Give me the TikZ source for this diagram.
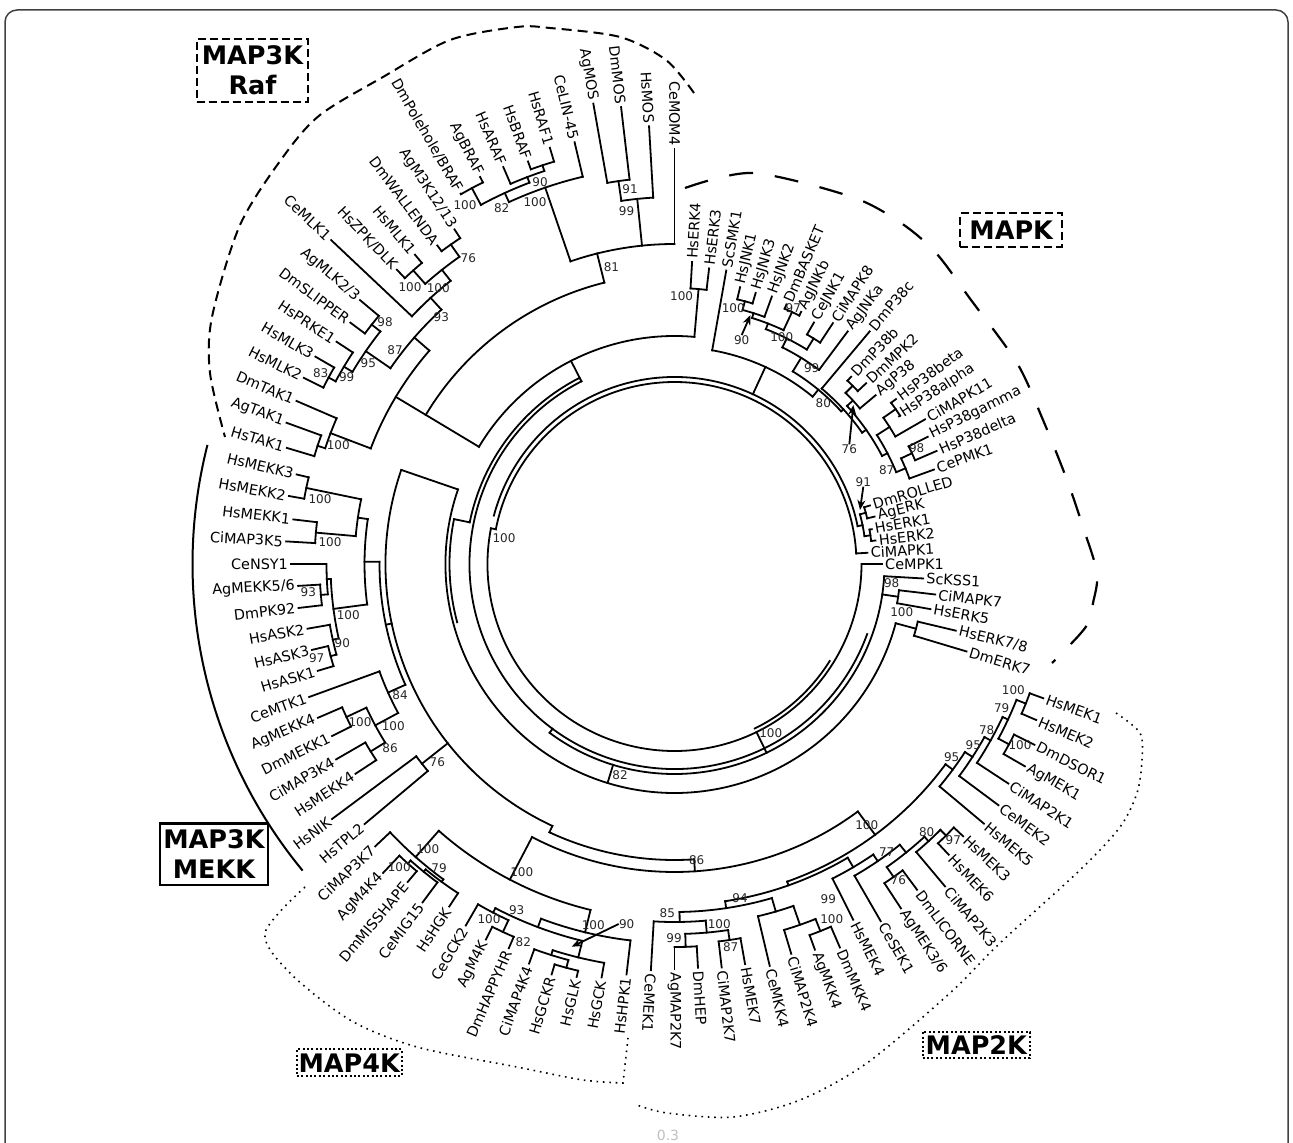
\documentclass[tikz,border=0pt]{standalone}
\usepackage{fontspec}
\setmainfont{DejaVu Sans}
\usetikzlibrary{arrows.meta}
\newcommand\Tarc[3]{\draw[tree] (#2:#1) arc[start angle=#2, end angle=#3, radius=#1*0.5pt];}
\newcommand\Trad[3]{\draw[tree] (#1:#2) -- (#1:#3);}
\newcommand\Lf[5]{\node[lab, rotate=#2] (#1) at (#2:#3) {#5}; \draw[tree] (#2:#4) -- (#1.west);}
\newcommand\Lfr[5]{\node[lab, rotate=#2+180] (#1) at (#2:#3) {#5}; \draw[tree] (#2:#4) -- (#1.east);}
\newcommand\Bs[4]{\node[bs] (#1) at (#2,#3) {#4};}
\begin{document}
\begin{tikzpicture}[x=0.5pt,y=0.5pt,
  tree/.style={line width=0.9pt,line cap=rect},
  lab/.style={font=\fontsize{7.2}{8.6}\selectfont,inner sep=1.5pt},
  bs/.style={font=\fontsize{6}{7}\selectfont,text=black!85,inner sep=0pt},
  grp/.style={draw,line width=1pt,font=\fontsize{12.75}{15}\selectfont\bfseries,align=center,inner sep=0pt},
  arr/.style={line width=0.9pt,-{Stealth[length=5pt,width=4pt]}}]
\useasboundingbox (0,0) rectangle (1293,1142);
\draw[black!75,line width=0.75pt,rounded corners=6pt] (5,-40) rectangle (1288,1132);
\node[font=\fontsize{7}{8}\selectfont,text=black!25] (scalebar) at (668,7) {0.3};

\begin{scope}[shift={(674.5,578)}]
% ---------- core rings ----------
\Tarc{182}{3.33}{169}
\Tarc{187}{169}{360}
\Tarc{187}{11.67}{165}
\Tarc{183}{296}{328}
\Trad{169}{182}{187}
\Trad{296}{187}{210}
\Tarc{205}{117}{340}
\Tarc{210}{233.5}{356.67}
\Trad{233.5}{205}{210}
\Tarc{209}{117}{168.5}
\Trad{117}{205}{228}
\Tarc{228}{85}{149.06}
\Trad{85}{228}{276}
\Trad{149.06}{228}{325}
\Trad{168.5}{209}{225}
\Tarc{225}{168.5}{195}
\Tarc{229}{161}{345}
\Trad{161}{229}{289}
\Trad{253}{210}{229}
\Trad{345}{229}{250}
% ---------- MAPK ----------
\Tarc{217}{80}{50.47}   \Trad{65.23}{187}{217}
\Tarc{226}{58.44}{42.5} \Trad{50.47}{217}{226}
\Tarc{242}{63.54}{53.33} \Trad{58.44}{226}{242}
\Tarc{252}{68.75}{58.33} \Trad{63.54}{242}{252}
\Tarc{258}{72.5}{65}    \Trad{68.75}{252}{258}
\Tarc{263}{75}{70}      \Trad{72.5}{258}{263}
\Tarc{272}{76.67}{73.33} \Trad{75}{263}{272}
\Tarc{278}{66.67}{63.33} \Trad{65}{258}{278}
\Tarc{265}{60}{56.67}   \Trad{58.33}{252}{265}
\Tarc{229}{50}{35}      \Trad{42.5}{226}{229}
\Tarc{234}{42.5}{27.5}  \Trad{35}{229}{234}
\Tarc{242}{45}{40}      \Trad{42.5}{234}{242}
\Tarc{252}{46.67}{43.33} \Trad{45}{242}{252}
\Tarc{240}{32.5}{22.5}  \Trad{27.5}{234}{240}
\Tarc{255}{35}{30}      \Trad{32.5}{240}{255}
\Tarc{270}{36.67}{33.33} \Trad{35}{255}{270}
\Tarc{250}{25}{20}      \Trad{22.5}{240}{250}
\Tarc{262}{26.67}{23.33} \Trad{25}{250}{262}
\Tarc{192}{15}{8.33}    \Trad{11.67}{187}{192}
\Tarc{198}{16.67}{13.33} \Trad{15}{192}{198}
\Tarc{198}{10}{6.67}    \Trad{8.33}{192}{198}
\Tarc{276}{86.67}{83.33}
\Tarc{226}{-6.67}{-10}  \Trad{-8.33}{210}{226}
\Tarc{250}{-13.33}{-16.67}
% ---------- MAP2K ----------
\Tarc{308}{242.45}{306.53}
\Tarc{296}{245}{273.8} \Trad{273.8}{296}{308} \Trad{245}{289}{296}
\Tarc{337}{-36.46}{-70.47} \Trad{-53.47}{308}{337}
\Tarc{346}{-32.92}{-40} \Trad{-36.46}{337}{346}
\Tarc{355}{-29.17}{-36.67} \Trad{-32.92}{346}{355}
\Tarc{362}{-25}{-33.33} \Trad{-29.17}{355}{362}
\Tarc{368}{-21.67}{-28.33} \Trad{-25}{362}{368}
\Tarc{378}{-20}{-23.33} \Trad{-21.67}{368}{378}
\Tarc{380}{-26.67}{-30} \Trad{-28.33}{368}{380}
\Tarc{341}{-59.48}{-81.46} \Trad{-70.47}{337}{341}
\Tarc{352}{-55.63}{-63.33} \Trad{-59.48}{341}{352}
\Tarc{360}{-51.25}{-60} \Trad{-55.63}{352}{360}
\Tarc{370}{-47.5}{-55} \Trad{-51.25}{360}{370}
\Tarc{376}{-45}{-50} \Trad{-47.5}{370}{376}
\Tarc{384}{-43.33}{-46.67} \Trad{-45}{376}{384}
\Tarc{382}{-53.33}{-56.67} \Trad{-55}{370}{382}
\Tarc{348}{-73.75}{-89.17} \Trad{-81.46}{341}{348}
\Tarc{362}{-70.83}{-76.67} \Trad{-73.75}{348}{362}
\Tarc{382}{-68.33}{-73.33} \Trad{-70.83}{362}{382}
\Tarc{395}{-66.67}{-70} \Trad{-68.33}{382}{395}
\Tarc{358}{-85}{-93.33} \Trad{-89.17}{348}{358}
\Tarc{370}{-81.67}{-88.33} \Trad{-85}{358}{370}
\Tarc{380}{-80}{-83.33} \Trad{-81.67}{370}{380}
\Tarc{383}{-86.67}{-90} \Trad{-88.33}{370}{383}
% ---------- MAP4K ----------
\Trad{242.45}{308}{356}
\Tarc{356}{228.54}{256.35}
\Tarc{391}{223.33}{233.75} \Trad{228.54}{356}{391}
\Tarc{394}{230.83}{236.67} \Trad{233.75}{391}{394}
\Tarc{397}{228.33}{233.33} \Trad{230.83}{394}{397}
\Tarc{401}{226.67}{230} \Trad{228.33}{397}{401}
\Tarc{379}{249.38}{263.33} \Trad{256.35}{356}{379}
\Tarc{388}{242.5}{256.25} \Trad{249.38}{379}{388}
\Tarc{393}{240}{245} \Trad{242.5}{388}{393}
\Tarc{406}{243.33}{246.67} \Trad{245}{393}{406}
\Tarc{405}{252.5}{260} \Trad{256.25}{388}{405}
\Tarc{410}{250}{255} \Trad{252.5}{405}{410}
\Tarc{418}{253.33}{256.67} \Trad{255}{410}{418}
% ---------- MAP3K MEKK ----------
\Tarc{289}{161}{245}
\Tarc{295}{179.58}{204.17} \Trad{191.88}{289}{295}
\Tarc{310}{171.67}{187.5} \Trad{179.58}{295}{310}
\Tarc{320}{168.33}{175} \Trad{171.67}{310}{320}
\Tarc{376}{166.67}{170} \Trad{168.33}{320}{376}
\Tarc{360}{173.33}{176.67} \Trad{175}{320}{360}
\Tarc{344}{182.5}{192.5} \Trad{187.5}{310}{344}
\Tarc{348}{180}{185} \Trad{182.5}{344}{348}
\Tarc{355}{183.33}{186.67} \Trad{185}{348}{355}
\Tarc{350}{190}{195} \Trad{192.5}{344}{350}
\Tarc{356}{193.33}{196.67} \Trad{195}{350}{356}
\Tarc{314}{200}{208.33} \Trad{204.17}{295}{314}
\Tarc{340}{205}{211.67} \Trad{208.33}{314}{340}
\Tarc{362}{203.33}{206.67} \Trad{205}{340}{362}
\Tarc{357}{210}{213.33} \Trad{211.67}{340}{357}
\Tarc{322}{216.67}{220} \Trad{218.33}{289}{322}
% ---------- MAP3K Raf ----------
\Tarc{290}{104}{149.06}
\Tarc{325}{138.96}{159.17}
\Tarc{368}{156.67}{161.67} \Trad{159.17}{325}{368}
\Tarc{376}{160}{163.33} \Trad{161.67}{368}{376}
\Tarc{345}{132.5}{145.42} \Trad{138.96}{325}{345}
\Tarc{375}{141.67}{149.17} \Trad{145.42}{345}{375}
\Tarc{386}{140}{143.33} \Trad{141.67}{375}{386}
\Tarc{385}{146.67}{151.67} \Trad{149.17}{375}{385}
\Tarc{393}{150}{153.33} \Trad{151.67}{385}{393}
\Tarc{361}{128.33}{136.67} \Trad{132.5}{345}{361}
\Tarc{375}{125}{131.67} \Trad{128.33}{361}{375}
\Tarc{393}{130}{133.33} \Trad{131.67}{375}{393}
\Tarc{390}{123.33}{126.67} \Trad{125}{375}{390}
\Tarc{320}{90}{108.96} \Trad{104}{290}{320}
\Tarc{367}{93.33}{98.33} \Trad{95.83}{320}{367}
\Tarc{387}{96.67}{100} \Trad{98.33}{367}{387}
\Tarc{398}{103.33}{114.58} \Trad{108.96}{320}{398}
\Tarc{408}{110.83}{118.33} \Trad{114.58}{398}{408}
\Tarc{427}{116.67}{120} \Trad{118.33}{408}{427}
\Tarc{414}{108.33}{113.33} \Trad{110.83}{408}{414}
\Tarc{420}{106.67}{110} \Trad{108.33}{414}{420}
% ---------- leaves ----------
\Lf{l1}{86.67}{334}{276}{HsERK4}
\Lf{l2}{83.33}{329}{276}{HsERK3}
\Lf{l3}{80}{330}{217}{ScSMK1}
\Lf{l4}{76.67}{313.8}{272}{HsJNK1}
\Lf{l5}{73.33}{312.3}{272}{HsJNK3}
\Lf{l6}{70}{314}{263}{HsJNK2}
\Lf{l7}{66.67}{326.8}{278}{DmBASKET}
\Lf{l8}{63.33}{311.8}{278}{AgJNKb}
\Lf{l9}{60}{308.5}{265}{CeJNK1}
\Lf{l10}{56.67}{323.5}{265}{CiMAPK8}
\Lf{l11}{53.33}{319.4}{242}{AgJNKa}
\Lf{l12}{50}{337}{229}{DmP38c}
\Lf{l13}{46.67}{291.5}{252}{DmP38b}
\Lf{l14}{43.33}{299.2}{252}{DmMPK2}
\Lf{l15}{40}{288.9}{242}{AgP38}
\Lf{l16}{36.67}{318.4}{270}{HsP38beta}
\Lf{l17}{33.33}{314.8}{270}{HsP38alpha}
\Lf{l18}{30}{329}{255}{CiMAPK11}
\Lf{l19}{26.67}{336.8}{262}{HsP38gamma}
\Lf{l20}{23.33}{329.7}{262}{HsP38delta}
\Lf{l21}{20}{308.8}{250}{CePMK1}
\Lf{l22}{16.67}{248.7}{198}{DmROLLED}
\Lf{l23}{13.33}{232.8}{198}{AgERK}
\Lf{l24}{10}{231.7}{198}{HsERK1}
\Lf{l25}{6.67}{233.8}{198}{HsERK2}
\Lf{l26}{3.33}{228.4}{182}{CiMAPK1}
\Lf{l27}{0}{240}{187}{CeMPK1}
\Lf{l28}{-3.33}{279.4}{210}{ScKSS1}
\Lf{l29}{-6.67}{297.7}{226}{CiMAPK7}
\Lf{l30}{-10}{291.3}{226}{HsERK5}
\Lf{l31}{-13.33}{327.5}{250}{HsERK7/8}
\Lf{l32}{-16.67}{339.6}{250}{DmERK7}
\Lf{l33}{-20}{425.1}{378}{HsMEK1}
\Lf{l34}{-23.33}{426.5}{378}{HsMEK2}
\Lf{l35}{-26.67}{444.1}{380}{DmDSOR1}
\Lf{l36}{-30}{437.5}{380}{AgMEK1}
\Lf{l37}{-33.33}{439.3}{362}{CiMAP2K1}
\Lf{l38}{-36.67}{436.8}{355}{CeMEK2}
\Lf{l39}{-40}{436.5}{346}{HsMEK5}
\Lf{l40}{-43.33}{429.4}{384}{HsMEK3}
\Lf{l41}{-46.67}{432.2}{384}{HsMEK6}
\Lf{l42}{-50}{460.6}{376}{CiMAP2K3}
\Lf{l43}{-53.33}{453.8}{382}{DmLICORNE}
\Lf{l44}{-56.67}{452.1}{382}{AgMEK3/6}
\Lf{l45}{-60}{443.6}{360}{CeSEK1}
\Lf{l46}{-63.33}{430.7}{352}{HsMEK4}
\Lf{l47}{-66.67}{453.8}{395}{DmMKK4}
\Lf{l48}{-70}{443.5}{395}{AgMKK4}
\Lf{l49}{-73.33}{446.7}{382}{CiMAP2K4}
\Lf{l50}{-76.67}{446.1}{362}{CeMKK4}
\Lf{l51}{-80}{438.8}{380}{HsMEK7}
\Lf{l52}{-83.33}{446}{380}{CiMAP2K7}
\Lf{l53}{-86.67}{434.7}{383}{DmHEP}
\Lf{l54}{-90}{447}{383}{AgMAP2K7}
\Lf{l55}{-93.33}{439.7}{358}{CeMEK1}
\Lfr{l56}{-96.67}{444.9}{379}{HsHPK1}
\Lfr{l57}{-100}{447.7}{405}{HsGCK}
\Lfr{l58}{-103.33}{451.2}{418}{HsGLK}
\Lfr{l59}{-106.67}{461.3}{418}{HsGCKR}
\Lfr{l60}{-110}{465}{410}{CiMAP4K4}
\Lfr{l61}{-113.33}{468.1}{406}{DmHAPPYHR}
\Lfr{l62}{-116.67}{448.6}{406}{AgM4K}
\Lfr{l63}{-120}{450.2}{393}{CeGCK2}
\Lfr{l64}{-123.33}{438.2}{394}{HsHGK}
\Lfr{l65}{-126.67}{457.8}{397}{CeMIG15}
\Lfr{l66}{-130}{467.7}{401}{DmMISSHAPE}
\Lfr{l67}{-133.33}{457.7}{401}{AgM4K4}
\Lfr{l68}{-136.67}{451.3}{391}{CiMAP3K7}
\Lfr{l69}{-140}{434.4}{322}{HsTPL2}
\Lfr{l70}{-143.33}{451.8}{322}{HsNIK}
\Lfr{l71}{-146.67}{419.1}{357}{HsMEKK4}
\Lfr{l72}{-150}{430.5}{357}{CiMAP3K4}
\Lfr{l73}{-153.33}{424}{362}{DmMEKK1}
\Lfr{l74}{-156.67}{426}{362}{AgMEKK4}
\Lfr{l75}{-160}{421.6}{314}{CeMTK1}
\Lfr{l76}{-163.33}{403.7}{356}{HsASK1}
\Lfr{l77}{-166.67}{403.9}{356}{HsASK3}
\Lfr{l78}{-170}{404}{350}{HsASK2}
\Lfr{l79}{-173.33}{412.7}{355}{DmPK92}
\Lfr{l80}{-176.67}{421.7}{355}{AgMEKK5/6}
\Lfr{l81}{-180}{415}{348}{CeNSY1}
\Lfr{l82}{-183.33}{428.8}{360}{CiMAP3K5}
\Lfr{l83}{-186.67}{421.1}{360}{HsMEKK1}
\Lfr{l84}{-190}{428.8}{376}{HsMEKK2}
\Lfr{l85}{-193.33}{425.7}{376}{HsMEKK3}
\Lfr{l86}{-196.67}{435.3}{376}{HsTAK1}
\Lfr{l87}{-200}{443.8}{376}{AgTAK1}
\Lfr{l88}{-203.33}{445.7}{368}{DmTAK1}
\Lfr{l89}{-206.67}{446.8}{393}{HsMLK2}
\Lfr{l90}{-210}{446.7}{393}{HsMLK3}
\Lfr{l91}{-213.33}{440.2}{385}{HsPRKE1}
\Lfr{l92}{-216.67}{449}{386}{DmSLIPPER}
\Lfr{l93}{-220}{449.9}{386}{AgMLK2/3}
\Lfr{l94}{-223.33}{504.4}{361}{CeMLK1}
\Lfr{l95}{-226.67}{447.8}{393}{HsZPK/DLK}
\Lfr{l96}{-230}{435.8}{393}{HsMLK1}
\Lfr{l97}{-233.33}{453}{390}{DmWALLENDA}
\Lfr{l98}{-236.67}{449.6}{390}{AgM3K12/13}
\Lfr{l99}{-240}{495}{427}{DmPolehole/BRAF}
\Lfr{l100}{-243.33}{464.7}{427}{AgBRAF}
\Lfr{l101}{-246.67}{463.6}{414}{HsARAF}
\Lfr{l102}{-250}{459.6}{420}{HsBRAF}
\Lfr{l103}{-253.33}{465.4}{420}{HsRAF1}
\Lfr{l104}{-256.67}{469.6}{398}{CeLIN-45}
\Lfr{l105}{-260}{496.8}{387}{AgMOS}
\Lfr{l106}{-263.33}{492.4}{387}{DmMOS}
\Lfr{l107}{-266.67}{467.5}{367}{HsMOS}
\Lfr{l108}{-270}{450.7}{320}{CeMOM4}
% MEKK group line
\draw[line width=1pt] (165.7:482) arc[start angle=165.7,end angle=219.5,radius=241pt];
\end{scope}

% ---------- group outlines ----------
\draw[line width=1pt,dash pattern=on 5pt off 3pt] plot[smooth] coordinates {(694,1049) (666,1082) (620,1105) (550,1114) (517,1115) (450,1102) (383,1065) (320,1027) (283,985) (240,917) (212,825) (210,769) (225,705)};
\draw[line width=1.1pt,dash pattern=on 12pt off 11pt] plot[smooth] coordinates {(685,954) (753,969) (852,945) (901,919) (936,889) (971,842) (1017,779) (1043,722) (1067,662) (1083,615) (1097,569) (1093,539) (1087,517) (1068,495) (1052,479)};
\draw[line width=0.8pt,dash pattern=on 0.8pt off 2.4pt] plot[smooth] coordinates {(1116,429) (1140,409) (1142,382) (1137,349) (1120,315) (1080,272) (1000,199) (950,149) (867,79) (800,42) (733,25) (667,29) (637,37)};
\draw[line width=0.8pt,dash pattern=on 0.8pt off 2.4pt] plot[smooth] coordinates {(305,255) (265,209) (290,169) (350,122) (417,95) (517,75) (583,62) (623,59)} -- (628,104);

% ---------- group labels ----------
\node[grp,dash pattern=on 4pt off 2pt,minimum width=55.8pt,minimum height=31.2pt] (gRaf) at (252.5,1071.5) {MAP3K\\Raf};
\node[grp,dash pattern=on 4pt off 2pt,minimum width=50.8pt,minimum height=16.7pt] (gMAPK) at (1011.2,912) {MAPK};
\node[grp,line width=1.3pt,minimum width=54pt,minimum height=30.8pt] (gMEKK) at (214,288) {MAP3K\\MEKK};
\node[grp,dash pattern=on 1pt off 1.2pt,minimum width=52.5pt,minimum height=13.3pt] (gM4K) at (349.2,79.3) {MAP4K};
\node[grp,dash pattern=on 1pt off 1.2pt,minimum width=53.7pt,minimum height=13.3pt] (gM2K) at (976.3,97) {MAP2K};

% ---------- bootstrap values ----------
\Bs{b1}{681.6}{845.5}{100}
\Bs{b2}{733.3}{833.7}{100}
\Bs{b3}{741.7}{802}{90}
\Bs{b4}{793.3}{833.7}{97}
\Bs{b5}{781.7}{804.7}{100}
\Bs{b6}{811.7}{773.7}{99}
\Bs{b7}{823.3}{738.7}{80}
\Bs{b8}{849.3}{692.7}{76}
\Bs{b9}{916.7}{693.7}{98}
\Bs{b10}{886.7}{672}{87}
\Bs{b11}{863.3}{660.3}{91}
\Bs{b12}{891.7}{558.7}{98}
\Bs{b13}{901.7}{530.3}{100}
\Bs{b14}{1013.3}{452}{100}
\Bs{b15}{1001.7}{433.7}{79}
\Bs{b16}{1020}{397}{100}
\Bs{b17}{986.7}{412}{78}
\Bs{b18}{973.3}{397}{95}
\Bs{b19}{951.7}{385.3}{95}
\Bs{b20}{866.7}{317}{100}
\Bs{b21}{926.7}{310.3}{80}
\Bs{b22}{953.3}{302}{97}
\Bs{b23}{886.7}{290.3}{77}
\Bs{b24}{898.3}{262}{76}
\Bs{b25}{828.3}{242.7}{99}
\Bs{b26}{831.7}{222.7}{100}
\Bs{b27}{740}{243.7}{94}
\Bs{b28}{667.3}{229.3}{85}
\Bs{b29}{719.3}{218}{100}
\Bs{b30}{674}{203.7}{99}
\Bs{b31}{730.7}{195.3}{87}
\Bs{b32}{696.7}{282}{86}
\Bs{b33}{521.7}{270.3}{100}
\Bs{b34}{427.7}{292.7}{100}
\Bs{b35}{399.3}{274.7}{100}
\Bs{b36}{439}{273.7}{79}
\Bs{b37}{516.7}{232}{93}
\Bs{b38}{489}{222.7}{100}
\Bs{b39}{523.3}{200.3}{82}
\Bs{b40}{593.3}{217}{100}
\Bs{b41}{626.7}{218}{90}
\Bs{b42}{320}{642.7}{100}
\Bs{b43}{330}{600.3}{100}
\Bs{b44}{308.3}{550.3}{93}
\Bs{b45}{348.3}{527}{100}
\Bs{b46}{342.3}{499.3}{90}
\Bs{b47}{316.7}{483.7}{97}
\Bs{b48}{400}{447}{84}
\Bs{b49}{360}{420.3}{100}
\Bs{b50}{393.3}{416}{100}
\Bs{b51}{390}{393.7}{86}
\Bs{b52}{437.3}{380.3}{76}
\Bs{b53}{504}{603.7}{100}
\Bs{b54}{620}{367}{82}
\Bs{b55}{770.7}{409.3}{100}
\Bs{b56}{338.3}{697}{100}
\Bs{b57}{320.7}{769.3}{83}
\Bs{b58}{346.7}{765.3}{99}
\Bs{b59}{368.3}{778.7}{95}
\Bs{b60}{385}{820.3}{98}
\Bs{b61}{395}{792}{87}
\Bs{b62}{441.3}{825.3}{93}
\Bs{b63}{410}{855.3}{100}
\Bs{b64}{438.3}{853.7}{100}
\Bs{b65}{468.3}{883.7}{76}
\Bs{b66}{465}{937}{100}
\Bs{b67}{501.7}{933.7}{82}
\Bs{b68}{535}{940.3}{100}
\Bs{b69}{540}{960.3}{90}
\Bs{b70}{630}{952.7}{91}
\Bs{b71}{626.5}{931.3}{99}
\Bs{b72}{611.4}{875.3}{81}

% ---------- arrows ----------
\coordinate (t3) at (750.5,827);
\coordinate (t8) at (853.3,737);
\coordinate (t11) at (860,632);
\coordinate (t41) at (571.7,195.3);
\draw[arr] (b3.north) -- (t3);
\draw[arr] (b8.north) -- (t8);
\draw[arr] (b11.south) -- (t11);
\draw[arr] (b41.west) -- (t41);
\end{tikzpicture}
\end{document}
